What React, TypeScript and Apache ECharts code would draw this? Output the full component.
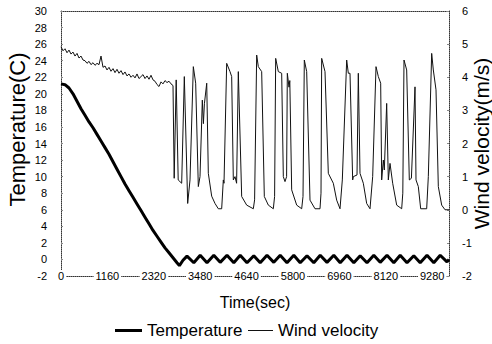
import React, { useEffect, useRef } from "react";
import * as echarts from "echarts";

const timeMax = 9700;
const timeStep = 1160;
const tempTicks = { min: -2, max: 30, step: 2 };
const windTicks = { min: -2, max: 6, step: 1 };

const tempData: [number, number][] = [
  [0, 21.2], [100, 21.1], [200, 20.7], [300, 20.0], [400, 19.1], [500, 18.2],
  [600, 17.4], [700, 16.6], [800, 15.9], [900, 15.1], [1000, 14.3], [1100, 13.5],
  [1200, 12.7], [1300, 11.8], [1400, 10.9], [1500, 10.0], [1600, 9.1], [1700, 8.3],
  [1800, 7.5], [1900, 6.7], [2000, 5.9], [2100, 5.1], [2200, 4.3], [2300, 3.5],
  [2400, 2.8], [2500, 2.1], [2600, 1.4], [2700, 0.8], [2800, 0.2], [2900, -0.4],
  [2960, -0.75], [3050, -0.1], [3150, 0.4],
  [3320, -0.4], [3480, 0.5], [3650, -0.4], [3820, 0.5], [3980, -0.35], [4150, 0.5],
  [4320, -0.4], [4480, 0.5], [4650, -0.4], [4820, 0.45], [4980, -0.4], [5150, 0.5],
  [5320, -0.35], [5480, 0.5], [5650, -0.4], [5820, 0.5], [5980, -0.4], [6150, 0.45],
  [6320, -0.4], [6480, 0.5], [6650, -0.35], [6820, 0.5], [6980, -0.4], [7150, 0.5],
  [7320, -0.4], [7480, 0.45], [7650, -0.4], [7820, 0.5], [7980, -0.35], [8150, 0.5],
  [8320, -0.4], [8480, 0.5], [8650, -0.4], [8820, 0.45], [8980, -0.4], [9150, 0.5],
  [9320, -0.4], [9480, 0.5], [9650, -0.3], [9700, 0.0],
];

const windData: [number, number][] = [
  [0, 4.92], [50, 4.80], [100, 4.86], [150, 4.74], [200, 4.82], [250, 4.70],
  [300, 4.76], [350, 4.64], [400, 4.72], [450, 4.58], [500, 4.64], [550, 4.52],
  [600, 4.50], [650, 4.42], [700, 4.48], [750, 4.38], [800, 4.44], [850, 4.36],
  [900, 4.42], [950, 4.38], [1000, 4.64], [1050, 4.30], [1100, 4.34], [1150, 4.22],
  [1200, 4.30], [1250, 4.18], [1300, 4.26], [1350, 4.14], [1400, 4.24], [1450, 4.12],
  [1500, 4.20], [1550, 4.08], [1600, 4.16], [1650, 4.04], [1700, 4.10], [1750, 4.00],
  [1800, 4.06], [1850, 3.98], [1900, 4.10], [1950, 3.96], [2000, 4.02], [2050, 4.08],
  [2100, 3.96], [2150, 4.04], [2200, 3.94], [2250, 4.06], [2300, 3.92], [2350, 3.88],
  [2400, 3.78], [2450, 3.72], [2500, 3.86], [2550, 3.80], [2600, 3.90], [2650, 3.84],
  [2700, 3.88], [2750, 3.80], [2800, 3.75],
  [2830, 0.95], [2880, 3.92], [2930, 0.9], [3017, 0.8], [3083, 4.02], [3167, 0.19],
  [3225, 0.9], [3308, 4.32], [3367, 3.82], [3433, 0.7], [3475, 1.0], [3533, 3.31],
  [3560, 2.6], [3585, 3.2], [3643, 3.82], [3683, 1.1], [3767, 0.41], [3850, 0.19],
  [3933, 0.03], [4017, 0.03], [4058, 0.9], [4075, 0.8], [4142, 4.42], [4225, 4.17],
  [4267, 4.02], [4308, 0.9], [4350, 1.0], [4390, 0.8], [4433, 4.17], [4517, 0.4],
  [4642, 0.14], [4808, 0.03], [4840, 0.3], [4892, 4.67], [4933, 4.32], [5017, 4.17],
  [5083, 0.4], [5183, 0.14], [5308, 0.03], [5340, 0.4], [5367, 4.57], [5433, 4.17],
  [5517, 4.12], [5558, 1.0], [5600, 0.85], [5640, 1.0], [5658, 4.12], [5700, 3.7],
  [5720, 3.9], [5767, 0.6], [5892, 0.14], [6017, 0.03], [6050, 0.4], [6083, 4.52],
  [6142, 4.17], [6225, 0.29], [6350, 0.03], [6475, 0.03], [6500, 0.5], [6517, 4.57],
  [6600, 4.17], [6683, 1.1], [6808, 0.8], [6892, 0.29], [6975, 0.03], [7033, 0.9],
  [7142, 4.52], [7183, 4.12], [7225, 4.12], [7292, 0.9], [7308, 1.0], [7400, 1.05],
  [7433, 4.12], [7475, 1.1], [7558, 0.8], [7642, 0.19], [7725, 0.03], [7792, 1.0],
  [7875, 4.32], [7933, 4.02], [7992, 3.82], [8017, 0.9], [8058, 1.5], [8083, 1.2],
  [8142, 3.21], [8183, 0.9], [8225, 1.4], [8292, 0.8], [8392, 0.14], [8517, 0.03],
  [8545, 0.5], [8575, 4.52], [8642, 4.22], [8708, 0.9], [8760, 0.95], [8850, 3.71],
  [8875, 0.9], [8933, 0.7], [8992, 0.03], [9142, 0.03], [9183, 1.0], [9267, 4.72],
  [9308, 4.22], [9375, 3.62], [9433, 0.7], [9517, 0.14], [9600, 0.0], [9700, 0.0],
];

const FONT = "Liberation Sans, Arial, sans-serif";
const dotted = { color: "#333", width: 1, type: "dotted" as const };
const legendText = { fontFamily: FONT, fontSize: 17, color: "#000" };

export default function App() {
  const ref = useRef<HTMLDivElement>(null);
  useEffect(() => {
    const chart = echarts.init(ref.current!, null, { renderer: "svg" });
    chart.setOption({
      animation: false,
      backgroundColor: "#fff",
      textStyle: { fontFamily: FONT, color: "#000" },
      grid: { left: 61, right: 43, top: 11, bottom: 68, containLabel: false, outerBoundsMode: "none" },
      legend: [
        {
          top: 317,
          left: 110,
          icon: "rect",
          itemWidth: 27,
          itemHeight: 3,
          textStyle: legendText,
          data: ["Temperature"],
        },
        {
          top: 317,
          left: 243,
          icon: "rect",
          itemWidth: 25,
          itemHeight: 1,
          textStyle: legendText,
          data: ["Wind velocity"],
        },
      ],
      xAxis: [
        {
          type: "value",
          min: 0,
          max: timeMax,
          interval: timeStep,
          name: "Time(sec)",
          nameLocation: "middle",
          nameGap: 18,
          nameMoveOverlap: false,
          nameTextStyle: { fontFamily: FONT, fontSize: 16, color: "#000" },
          axisLine: { show: true, onZero: false, lineStyle: dotted },
          axisTick: { show: false },
          splitLine: { show: false },
          axisLabel: {
            margin: -6,
            fontSize: 11,
            fontFamily: FONT,
            color: "#000",
            backgroundColor: "#fff",
            padding: [0, 2],
            showMaxLabel: false,
            formatter: (v: number) => (v % timeStep === 0 ? String(v) : ""),
          },
        },
        {
          type: "value",
          position: "top",
          min: 0,
          max: timeMax,
          axisLine: { show: true, onZero: false, lineStyle: dotted },
          axisTick: { show: false },
          axisLabel: { show: false },
          splitLine: { show: false },
        },
      ],
      yAxis: [
        {
          type: "value",
          min: tempTicks.min,
          max: tempTicks.max,
          interval: tempTicks.step,
          name: "Temperature(C)",
          nameLocation: "middle",
          nameGap: 33,
          nameMoveOverlap: false,
          nameTextStyle: { fontFamily: FONT, fontSize: 22, color: "#000", padding: [0, 0, 0, 28] },
          axisLine: { show: true, onZero: false, lineStyle: dotted },
          axisTick: { show: true, inside: true, length: 2, lineStyle: { color: "#888" } },
          splitLine: { show: false },
          axisLabel: { margin: 14, fontSize: 11, fontFamily: FONT, color: "#000" },
        },
        {
          type: "value",
          position: "right",
          min: windTicks.min,
          max: windTicks.max,
          interval: windTicks.step,
          name: "Wind velocity(m/s)",
          nameLocation: "middle",
          nameGap: 22,
          nameRotate: 90,
          nameMoveOverlap: false,
          nameTextStyle: { fontFamily: FONT, fontSize: 21, color: "#000" },
          axisLine: { show: true, onZero: false, lineStyle: dotted },
          axisTick: { show: true, inside: true, length: 2, lineStyle: { color: "#888" } },
          splitLine: { show: false },
          axisLabel: { margin: 13, fontSize: 11, fontFamily: FONT, color: "#000" },
        },
      ],
      series: [
        {
          name: "Temperature",
          type: "line",
          xAxisIndex: 0,
          yAxisIndex: 0,
          symbol: "none",
          data: tempData,
          lineStyle: { color: "#000", width: 3 },
          itemStyle: { color: "#000" },
          z: 3,
        },
        {
          name: "Wind velocity",
          type: "line",
          xAxisIndex: 0,
          yAxisIndex: 1,
          symbol: "none",
          data: windData,
          lineStyle: { color: "#111", width: 1 },
          itemStyle: { color: "#111" },
          z: 2,
        },
      ],
    });
    return () => chart.dispose();
  }, []);
  return (
    <div
      ref={ref}
      style={{ position: "fixed", left: 0, top: 0, width: 492, height: 344 }}
    />
  );
}
